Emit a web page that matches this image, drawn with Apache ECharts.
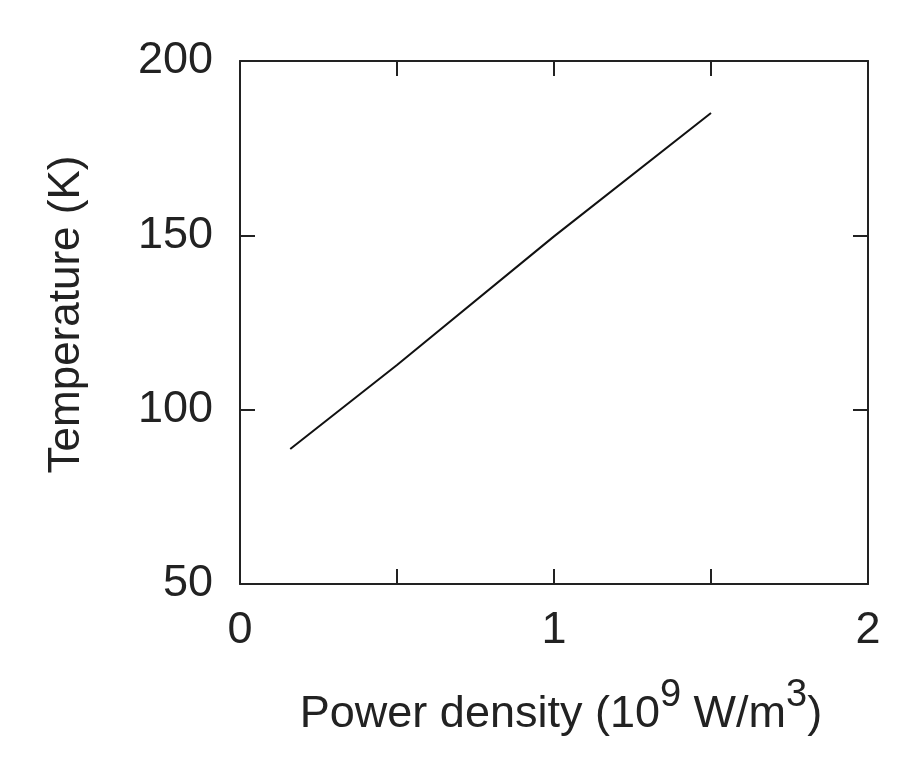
<!DOCTYPE html>
<html>
<head>
<meta charset="utf-8">
<script src="https://cdn.jsdelivr.net/npm/echarts@6/dist/echarts.min.js"></script>
<style>html,body{margin:0;padding:0;background:#fff;}#c{width:915px;height:775px;}</style>
</head>
<body>
<div id="c"></div>
<script>
const powerDensity = [0.16, 0.5, 1.0, 1.5];
const temperature = [88.7, 112.8, 149.7, 185.1];
const xTickLabels = ['0', '1', '2'];
const yTickLabels = ['50', '100', '150', '200'];

const font = 'Liberation Sans, Arial, Helvetica, sans-serif';
const ink = '#222222';
const chart = echarts.init(document.getElementById('c'), null, {renderer: 'canvas'});
const xLabelSet = new Set(xTickLabels);
const yLabelSet = new Set(yTickLabels);

function frameAxis(extra) {
  return Object.assign({
    type: 'value',
    axisLine: {show: true, onZero: false, lineStyle: {color: ink, width: 2}},
    axisTick: {show: true, inside: true, length: 15, lineStyle: {color: ink, width: 2}},
    splitLine: {show: false}
  }, extra);
}

chart.setOption({
  animation: false,
  backgroundColor: '#ffffff',
  grid: {left: 240, top: 61, right: 47, bottom: 191, show: false},
  xAxis: [frameAxis({
    position: 'bottom', min: 0, max: 2, interval: 0.5,
    axisLabel: {
      margin: 24, fontSize: 45, color: ink, fontFamily: font,
      formatter: v => { const s = String(v); return xLabelSet.has(s) ? s : ''; }
    },
    name: '{n|Power density (10}{s|9}{n| W/m}{s|3}{n|)}',
    nameLocation: 'middle', nameGap: 93,
    nameTextStyle: {
      padding: [0, 0, 0, 14],
      rich: {
        n: {fontSize: 45, fontFamily: font, color: ink, verticalAlign: 'bottom', lineHeight: 60},
        s: {fontSize: 38, fontFamily: font, color: ink, verticalAlign: 'top', lineHeight: 60, padding: [0, 0, 22, 0]}
      }
    }
  }), frameAxis({
    position: 'top', min: 0, max: 2, interval: 0.5,
    axisLabel: {show: false}
  })],
  yAxis: [frameAxis({
    position: 'left', min: 50, max: 200, interval: 50,
    axisLabel: {
      margin: 27, fontSize: 45, color: ink, fontFamily: font,
      formatter: v => { const s = String(v); return yLabelSet.has(s) ? s : ''; }
    },
    name: 'Temperature (K)', nameLocation: 'middle', nameGap: 151, nameRotate: 90,
    nameTextStyle: {fontSize: 44, fontFamily: font, color: ink, padding: [0, 0, 0, 16]}
  }), frameAxis({
    position: 'right', min: 50, max: 200, interval: 50,
    axisLabel: {show: false}
  })],
  series: [{
    type: 'line',
    xAxisIndex: 0, yAxisIndex: 0,
    data: powerDensity.map((x, i) => [x, temperature[i]]),
    showSymbol: false, symbol: 'none',
    lineStyle: {color: '#111111', width: 2},
    z: 1
  }]
});
</script>
</body>
</html>
